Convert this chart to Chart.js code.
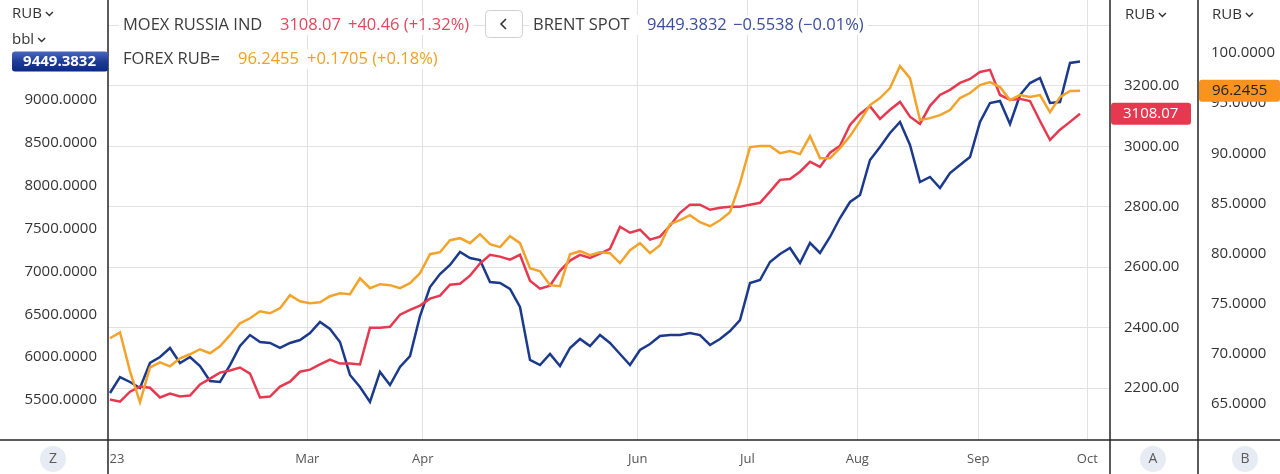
<!DOCTYPE html>
<html><head><meta charset="utf-8">
<script src="https://cdn.jsdelivr.net/npm/chart.js@4.4.0/dist/chart.umd.min.js"></script>
<style>html,body{margin:0;padding:0;background:#fff;overflow:hidden}canvas{display:block}</style>
</head><body>
<canvas id="c" width="1280" height="474"></canvas>
<script>
// ---- data ----
const tickLabels = ['23','Mar','Apr','Jun','Jul','Aug','Sep','Oct'];
const tickPositions = [0.7,19.73,31.27,52.77,63.73,74.73,86.83,97.73];

const brentRub = [
 5582,5768,5710,5640,5932,6002,6107,5932,6002,5897,
 5722,5710,5908,6130,6258,6177,6165,6107,6165,6200,
 6282,6410,6328,6177,5792,5652,5477,5827,5675,5885,
 6013,6480,6818,6970,7075,7227,7157,7133,6877,6865,
 6795,6585,5967,5908,6037,5897,6107,6212,6130,6258,
 6165,6037,5908,6083,6153,6247,6258,6258,6282,6258,
 6142,6212,6305,6433,6865,6900,7110,7203,7273,7098,
 7332,7215,7402,7623,7810,7892,8300,8452,8615,8743,
 8475,8043,8102,7973,8148,8242,8335,8743,8965,8988,
 8720,9058,9198,9257,8965,8977,9432,9449.3832
];
const moex = [
 2162,2155,2188,2205,2201,2169,2182,2172,2175,2212,
 2231,2251,2258,2268,2248,2169,2172,2205,2221,2254,
 2261,2278,2294,2281,2281,2278,2400,2400,2403,2443,
 2459,2473,2496,2506,2542,2545,2572,2612,2641,2635,
 2625,2641,2555,2529,2539,2588,2622,2641,2631,2645,
 2661,2734,2714,2724,2691,2701,2737,2780,2807,2807,
 2790,2797,2800,2800,2807,2813,2850,2889,2892,2916,
 2949,2932,2979,3002,3071,3107,3133,3091,3121,3147,
 3098,3074,3134,3170,3187,3210,3223,3246,3253,3170,
 3154,3157,3150,3084,3021,3055,3081,3108.07
];
const usdRub = [
 71.56,72.15,68.26,65.17,68.66,69.16,68.76,69.56,69.96,70.46,
 70.06,70.76,71.86,73.05,73.55,74.25,74.05,74.55,75.85,75.25,
 75.05,75.15,75.75,76.05,75.95,77.54,76.55,76.95,76.85,76.55,
 77.05,78.04,79.94,80.14,81.34,81.54,81.04,81.94,80.94,80.64,
 81.74,81.04,78.54,78.24,76.85,76.75,79.94,80.24,79.84,80.14,
 80.04,79.04,80.34,81.04,80.04,80.84,82.93,83.33,83.83,83.13,
 82.73,83.33,84.13,87.03,90.62,90.72,90.72,90.02,90.22,89.92,
 91.72,89.52,89.52,90.52,91.72,93.21,94.81,95.51,96.51,98.70,
 97.50,93.31,93.51,93.81,94.31,95.51,96.01,96.81,97.11,96.61,
 95.31,95.81,95.61,95.81,94.11,95.61,96.21,96.2455
];
const zTicks = [5500,6000,6500,7000,7500,8000,8500,9000];
const aTicks = [2200,2400,2600,2800,3000,3200,3400];
const aLabelMax = 3200;
const bTicks = [65,70,75,80,85,90,95,100];

const legendRows = [
 {label:'MOEX RUSSIA IND', value:'3108.07', change:'+40.46 (+1.32%)', color:'#e2475c'},
 {label:'BRENT SPOT', value:'9449.3832', change:'\u22120.5538 (\u22120.01%)', color:'#3a4d9e'},
 {label:'FOREX RUB=', value:'96.2455', change:'+0.1705 (+0.18%)', color:'#f0a024'}
];
const unitLabels = {z:['RUB','bbl'], a:['RUB'], b:['RUB']};
const axisBadges = ['Z','A','B'];

// ---- styles ----
const FONT = '"Open Sans", "Noto Sans", sans-serif';
const C_BLUE = '#1b3a8c', C_RED = '#e63950', C_ORANGE = '#f4a32a';
const GRID = '#e1e1e1';
const idx = brentRub.map((_, i) => i);

function chevronDown(ctx, x, y){
  ctx.beginPath(); ctx.moveTo(x, y); ctx.lineTo(x+3.5, y+3.5); ctx.lineTo(x+7, y);
  ctx.strokeStyle = '#333'; ctx.lineWidth = 1.4; ctx.stroke();
}
function roundRect(ctx, x, y, w, h, r){
  ctx.beginPath();
  ctx.moveTo(x+r, y); ctx.lineTo(x+w-r, y); ctx.quadraticCurveTo(x+w, y, x+w, y+r);
  ctx.lineTo(x+w, y+h-r); ctx.quadraticCurveTo(x+w, y+h, x+w-r, y+h);
  ctx.lineTo(x+r, y+h); ctx.quadraticCurveTo(x, y+h, x, y+h-r);
  ctx.lineTo(x, y+r); ctx.quadraticCurveTo(x, y, x+r, y); ctx.closePath();
}
function noPad(s){ s.paddingTop = 0; s.paddingBottom = 0; s.paddingLeft = 0; s.paddingRight = 0; }

const overlay = {
  id: 'overlay',
  afterDraw(chart){
    const ctx = chart.ctx, ca = chart.chartArea;
    const sZ = chart.scales.z, sA = chart.scales.a, sB = chart.scales.b;
    ctx.save();
    // separators
    ctx.strokeStyle = '#262626'; ctx.lineWidth = 1.5;
    ctx.beginPath();
    [ca.left, ca.right, sB.left].forEach(x => { ctx.moveTo(x, 0); ctx.lineTo(x, chart.height); });
    ctx.moveTo(0, ca.bottom); ctx.lineTo(chart.width, ca.bottom);
    ctx.stroke();

    // unit labels
    ctx.font = '15px ' + FONT; ctx.textBaseline = 'middle'; ctx.textAlign = 'left';
    const drawUnit = (t, x, y) => { ctx.fillStyle = '#333'; ctx.fillText(t, x, y); const w = ctx.measureText(t).width; chevronDown(ctx, x + w + 4, y - 2); };
    drawUnit(unitLabels.z[0], 12, 14);
    drawUnit(unitLabels.z[1], 12, 40);
    drawUnit(unitLabels.a[0], sA.left + 15, 15);
    drawUnit(unitLabels.b[0], sB.left + 14, 15);

    // legend
    const rowPos = [{y:25, x:[123,280,348]}, {y:25, x:[533,647,733]}, {y:59, x:[123,238,307]}];
    ctx.font = '16.5px ' + FONT;
    legendRows.forEach((r, i) => {
      const p = rowPos[i], y = p.y;
      const end = p.x[2] + ctx.measureText(r.change).width;
      ctx.fillStyle = '#fff'; ctx.fillRect(p.x[0] - 4, y - 10, end - p.x[0] + 8, 20);
      ctx.fillStyle = '#3c3c3c'; ctx.fillText(r.label, p.x[0], y);
      ctx.fillStyle = r.color; ctx.fillText(r.value, p.x[1], y);
      ctx.fillText(r.change, p.x[2], y);
    });
    // collapse button
    roundRect(ctx, 485.5, 10.5, 37, 27, 4);
    ctx.fillStyle = '#fff'; ctx.fill(); ctx.strokeStyle = '#d2d2d2'; ctx.lineWidth = 1; ctx.stroke();
    ctx.beginPath(); ctx.moveTo(506, 19); ctx.lineTo(501, 24); ctx.lineTo(506, 29);
    ctx.strokeStyle = '#333'; ctx.lineWidth = 1.6; ctx.stroke();

    // badges
    const yZ = sZ.getPixelForValue(brentRub[brentRub.length - 1]);
    const g = ctx.createLinearGradient(0, yZ - 10, 0, yZ + 10);
    g.addColorStop(0, '#4a68c0'); g.addColorStop(0.5, '#1d3c96'); g.addColorStop(1, '#0c2a80');
    roundRect(ctx, 12, yZ - 10, ca.left - 12, 20, 3); ctx.fillStyle = g; ctx.fill();
    ctx.font = 'bold 15px ' + FONT; ctx.fillStyle = '#fff'; ctx.textAlign = 'right';
    ctx.fillText(legendRows[1].value, ca.left - 12, yZ + 0.5);

    const yA = sA.getPixelForValue(moex[moex.length - 1]);
    roundRect(ctx, ca.right + 1, yA - 11, 80, 22, 3); ctx.fillStyle = '#e63950'; ctx.fill();
    ctx.font = '15px ' + FONT; ctx.fillStyle = '#fff'; ctx.textAlign = 'left';
    ctx.fillText(legendRows[0].value, ca.right + 13, yA + 0.5);

    const yB = sB.getPixelForValue(usdRub[usdRub.length - 1]);
    roundRect(ctx, sB.left + 1, yB - 11, chart.width - sB.left - 1, 22, 3); ctx.fillStyle = '#f7931e'; ctx.fill();
    ctx.fillStyle = '#222'; ctx.fillText(legendRows[2].value, sB.left + 14, yB + 0.5);

    // axis badges
    const bx = [53, (ca.right + sB.left) / 2 - 1, (sB.left + chart.width) / 2 + 6];
    axisBadges.forEach((t, i) => {
      ctx.beginPath(); ctx.arc(bx[i], 459, 13, 0, Math.PI * 2); ctx.fillStyle = '#e7ecf4'; ctx.fill();
      ctx.font = '14px ' + FONT; ctx.fillStyle = '#5a5a5a'; ctx.textAlign = 'center';
      ctx.fillText(t, bx[i], 459.5);
    });
    ctx.restore();
  }
};

const yTickFont = {family: FONT, size: 15};
new Chart(document.getElementById('c'), {
  type: 'line',
  data: {
    labels: idx,
    datasets: [
      {label:'FOREX RUB=', data: usdRub.map((v,i)=>({x:i,y:v})), yAxisID:'b', borderColor:C_ORANGE, borderWidth:2.5, pointRadius:0, tension:0},
      {label:'MOEX RUSSIA IND', data: moex.map((v,i)=>({x:i,y:v})), yAxisID:'a', borderColor:C_RED, borderWidth:2.5, pointRadius:0, tension:0},
      {label:'BRENT SPOT', data: brentRub.map((v,i)=>({x:i,y:v})), yAxisID:'z', borderColor:C_BLUE, borderWidth:2.5, pointRadius:0, tension:0}
    ]
  },
  options: {
    responsive: false, animation: false,
    layout: {padding: 0, autoPadding: false},
    plugins: {legend: {display:false}, tooltip: {enabled:false}},
    scales: {
      x: {
        type: 'linear', position: 'bottom', min: -0.2, max: 100,
        afterFit(s){ s.height = 34; noPad(s); },
        afterBuildTicks(s){ s.ticks = tickPositions.map(v => ({value: v})); },
        ticks: {autoSkip:false, maxRotation:0, padding:11, color:'#555', font:{family:FONT, size:13},
          callback: (v, i) => tickLabels[i]},
        grid: {drawTicks:false, color: c => c.index === 0 ? 'rgba(0,0,0,0)' : GRID, lineWidth:1},
        border: {display:false}
      },
      z: {
        type: 'linear', position: 'left', min: 5033.3, max: 10166.7,
        afterFit(s){ s.width = 108; noPad(s); },
        afterBuildTicks(s){ s.ticks = zTicks.map(v => ({value: v})); },
        ticks: {padding:11, color:'#333', font:yTickFont, callback: v => Number(v).toFixed(4)},
        grid: {display:false, drawTicks:false}, border: {display:false}
      },
      a: {
        type: 'linear', position: 'right', weight: 0, min: 2028.1, max: 3484.3,
        afterFit(s){ s.width = 88; noPad(s); },
        afterBuildTicks(s){ s.ticks = aTicks.map(v => ({value: v})); },
        ticks: {padding:14, color:'#333', font:yTickFont, callback: v => v > aLabelMax ? '' : Number(v).toFixed(2)},
        grid: {drawTicks:false, color: GRID, lineWidth:1}, border: {display:false}
      },
      b: {
        type: 'linear', position: 'right', weight: 1, min: 61.41, max: 105.29,
        afterFit(s){ s.width = 82; noPad(s); },
        afterBuildTicks(s){ s.ticks = bTicks.map(v => ({value: v})); },
        ticks: {padding:13, color:'#333', font:yTickFont, callback: v => Number(v).toFixed(4)},
        grid: {display:false, drawTicks:false}, border: {display:false}
      }
    }
  },
  plugins: [overlay]
});
</script>
</body></html>
